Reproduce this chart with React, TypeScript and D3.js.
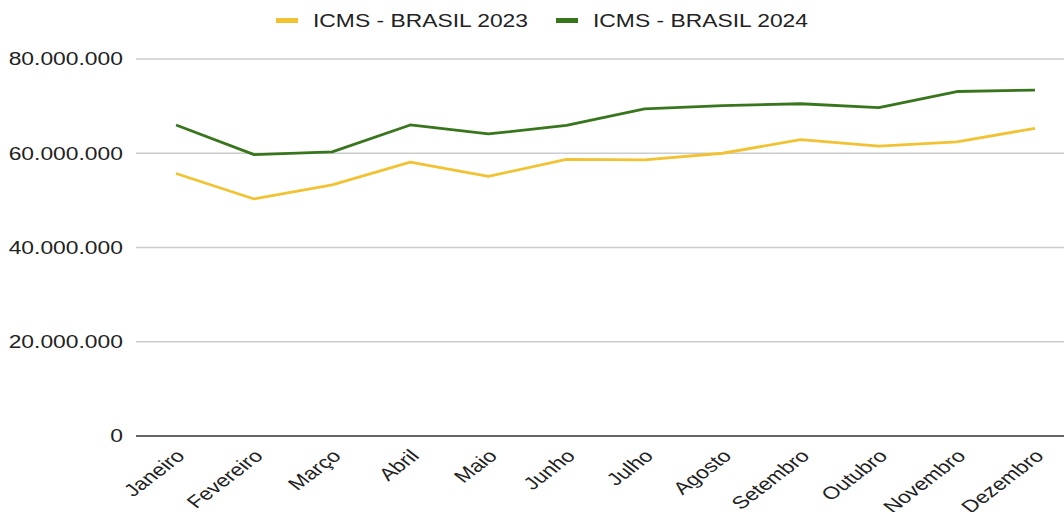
import React from "react";
import * as d3 from "d3";

const months = ["Janeiro","Fevereiro","Março","Abril","Maio","Junho","Julho","Agosto","Setembro","Outubro","Novembro","Dezembro"];
const icms2023 = [55.7e6,50.3e6,53.3e6,58.1e6,55.1e6,58.7e6,58.6e6,60.0e6,62.9e6,61.5e6,62.4e6,65.3e6];
const icms2024 = [66.0e6,59.7e6,60.3e6,66.0e6,64.1e6,65.9e6,69.4e6,70.1e6,70.5e6,69.7e6,73.1e6,73.4e6];
const yTicks = [0,20e6,40e6,60e6,80e6];
const seriesNames = ["ICMS - BRASIL 2023","ICMS - BRASIL 2024"];
const colors = ["#f1c232","#38761d"];

const fmt = (v: number) => v === 0 ? "0" : d3.format(",")(v).replace(/,/g, ".");

export default function App() {
  const W = 1064, H = 512;
  const left = 137, right = 1074, top = 59, bottom = 436;
  const sx = 1.27;
  const x = d3.scaleBand<string>().domain(months).range([left, right]).padding(0);
  const y = d3.scaleLinear().domain([0, 80e6]).range([bottom, top]);
  const line = d3.line<number>().x((_, i) => x(months[i])! + x.bandwidth() / 2).y(d => y(d));
  const font = "'Liberation Sans', Arial, sans-serif";
  return (
    <svg width={W} height={H} style={{ position: "absolute", left: 0, top: 0, background: "#fff" }} fontFamily={font}>
      {yTicks.map(t => (
        <g key={t}>
          {t !== 0 && <line x1={left - 1} x2={W} y1={y(t)} y2={y(t)} stroke="#cccccc" strokeWidth={1.3} />}
          <text transform={`translate(123,${y(t)}) scale(${sx},1)`} dy="0.35em" textAnchor="end" fontSize={18} fill="#222">{fmt(t)}</text>
        </g>
      ))}
      {[icms2023, icms2024].map((s, i) => (
        <path key={i} d={line(s)!} fill="none" stroke={colors[i]} strokeWidth={2.8} strokeLinejoin="round" />
      ))}
      <line x1={left - 1} x2={W} y1={bottom} y2={bottom} stroke="#333" strokeWidth={1.3} />
      {months.map(m => {
        const cx = x(m)! + x.bandwidth() / 2;
        return (
          <text key={m} transform={`translate(${cx + 10},${bottom + 21}) scale(1.3,1) rotate(-45)`} textAnchor="end" fontSize={17.5} fill="#222">{m}</text>
        );
      })}
      {seriesNames.map((n, i) => {
        const lx = [276, 556][i];
        return (
          <g key={n}>
            <rect x={lx} y={18} width={22} height={5} fill={colors[i]} />
            <text transform={`translate(${lx + 37},21) scale(${sx},1)`} dy="0.35em" fontSize={18} fill="#222">{n}</text>
          </g>
        );
      })}
    </svg>
  );
}
